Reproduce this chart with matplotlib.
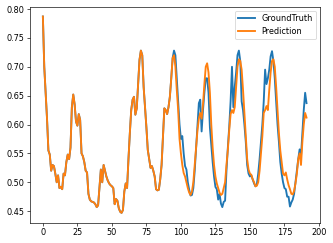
import matplotlib
matplotlib.use("Agg")
import matplotlib.pyplot as plt

# shared history (first 94 steps, prediction equals ground truth)
history = [
    0.787, 0.700, 0.655, 0.610, 0.555, 0.548, 0.520, 0.530, 0.528, 0.515,
    0.500, 0.512, 0.490, 0.492, 0.488, 0.515, 0.512, 0.535, 0.548, 0.540,
    0.560, 0.630, 0.652, 0.635, 0.605, 0.598, 0.618, 0.608, 0.550, 0.545,
    0.535, 0.520, 0.517, 0.480, 0.470, 0.467, 0.466, 0.465, 0.462, 0.457,
    0.460, 0.490, 0.522, 0.500, 0.530, 0.520, 0.510, 0.503, 0.498, 0.495,
    0.493, 0.490, 0.462, 0.471, 0.468, 0.455, 0.449, 0.447, 0.452, 0.484,
    0.498, 0.490, 0.540, 0.585, 0.625, 0.643, 0.648, 0.617, 0.628, 0.670,
    0.712, 0.728, 0.720, 0.665, 0.630, 0.595, 0.556, 0.540, 0.525, 0.528,
    0.520, 0.510, 0.488, 0.486, 0.487, 0.505, 0.530, 0.580, 0.628, 0.625,
    0.618, 0.630, 0.648, 0.680,
]

truth_tail = [
    0.715, 0.728, 0.720, 0.680, 0.640, 0.600, 0.575, 0.580, 0.550, 0.528,
    0.522, 0.500, 0.487, 0.477, 0.478, 0.490, 0.520, 0.560, 0.600, 0.637,
    0.643, 0.588, 0.625, 0.655, 0.680, 0.680, 0.655, 0.595, 0.565, 0.535,
    0.510, 0.492, 0.488, 0.470, 0.480, 0.463, 0.457, 0.466, 0.468, 0.520,
    0.560, 0.596, 0.640, 0.700, 0.630, 0.665, 0.690, 0.720, 0.728, 0.710,
    0.640, 0.625, 0.600, 0.570, 0.530, 0.515, 0.510, 0.512, 0.505, 0.498,
    0.493, 0.496, 0.515, 0.540, 0.570, 0.600, 0.640, 0.695, 0.670, 0.680,
    0.695, 0.718, 0.727, 0.710, 0.680, 0.640, 0.600, 0.570, 0.535, 0.515,
    0.500, 0.490, 0.488, 0.475, 0.475, 0.458, 0.465, 0.470, 0.480, 0.500,
    0.520, 0.540, 0.557, 0.545, 0.585, 0.625, 0.655, 0.637,
]

pred_tail = [
    0.715, 0.720, 0.700, 0.660, 0.625, 0.575, 0.550, 0.530, 0.516, 0.510,
    0.500, 0.490, 0.482, 0.478, 0.484, 0.500, 0.530, 0.560, 0.590, 0.610,
    0.620, 0.610, 0.635, 0.670, 0.700, 0.706, 0.690, 0.655, 0.600, 0.560,
    0.530, 0.510, 0.498, 0.490, 0.482, 0.478, 0.480, 0.490, 0.500, 0.530,
    0.556, 0.590, 0.618, 0.625, 0.620, 0.630, 0.665, 0.700, 0.713, 0.710,
    0.695, 0.660, 0.620, 0.580, 0.540, 0.522, 0.515, 0.513, 0.505, 0.500,
    0.493, 0.494, 0.500, 0.520, 0.550, 0.580, 0.620, 0.625, 0.632, 0.625,
    0.660, 0.690, 0.710, 0.713, 0.700, 0.665, 0.625, 0.585, 0.555, 0.535,
    0.515, 0.512, 0.517, 0.505, 0.495, 0.488, 0.480, 0.479, 0.485, 0.498,
    0.515, 0.540, 0.550, 0.530, 0.570, 0.600, 0.620, 0.612,
]

ground_truth = history + truth_tail
prediction = history + pred_tail

dpi = 58.5
fig = plt.figure(figsize=(333 / dpi, 243 / dpi), dpi=dpi)
ax = fig.add_axes([29.7 / 333, 20.3 / 243, 290 / 333, 216 / 243])
ax.plot(ground_truth, label="GroundTruth", linewidth=2.3)
ax.plot(prediction, label="Prediction", linewidth=2.3)
ax.set_xticks([0, 25, 50, 75, 100, 125, 150, 175, 200])
ax.legend(loc="upper right")
fig.savefig("out.png", dpi=dpi)
